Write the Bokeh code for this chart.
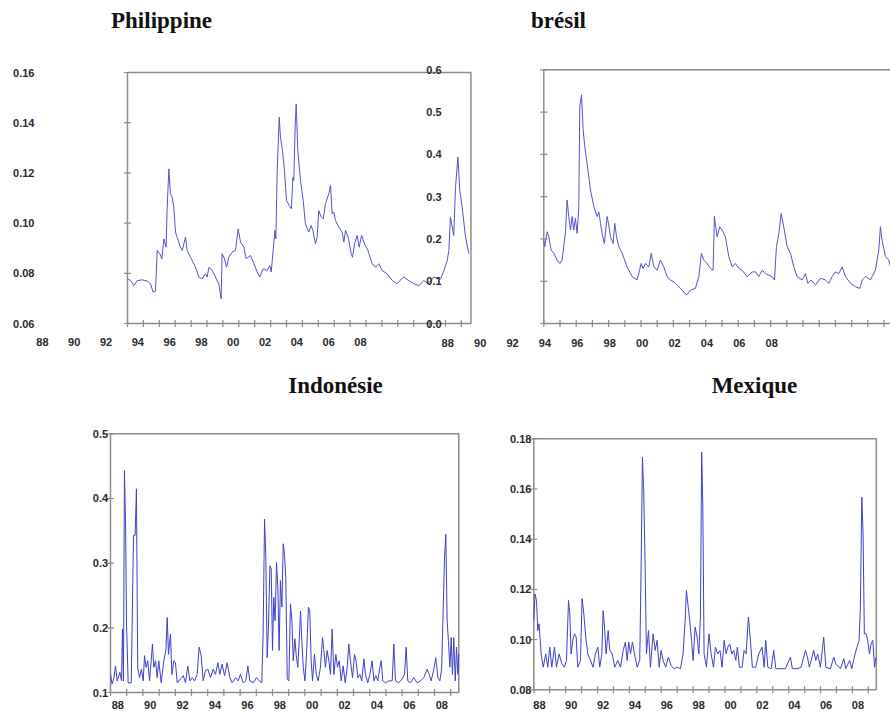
from bokeh.plotting import figure
from bokeh.models import Range1d
from bokeh.core.properties import value
from bokeh.embed import file_html
from bokeh.resources import INLINE

# ---------------- data ----------------
phil_years = [1988.00, 1988.19, 1988.40, 1988.61, 1988.92, 1989.24, 1989.45, 1989.61, 1989.76, 1989.87,
              1990.03, 1990.16, 1990.29, 1990.43, 1990.49, 1990.60, 1990.70, 1990.81, 1990.91, 1991.02,
              1991.12, 1991.33, 1991.44, 1991.65, 1991.75, 1991.96, 1992.28, 1992.49, 1992.70, 1992.91,
              1993.01, 1993.12, 1993.33, 1993.53, 1993.74, 1993.89, 1993.95, 1994.10, 1994.23, 1994.37,
              1994.58, 1994.79, 1994.96, 1995.11, 1995.32, 1995.46, 1995.74, 1995.95, 1996.16, 1996.32,
              1996.53, 1996.78, 1996.95, 1997.04, 1997.16, 1997.27, 1997.33, 1997.41, 1997.54, 1997.62,
              1997.75, 1997.87, 1998.00, 1998.17, 1998.31, 1998.40, 1998.46, 1998.55, 1998.61, 1998.71,
              1998.88, 1999.05, 1999.19, 1999.40, 1999.55, 1999.66, 1999.82, 1999.93, 2000.03, 2000.18,
              2000.31, 2000.45, 2000.66, 2000.77, 2000.87, 2000.98, 2001.08, 2001.29, 2001.50, 2001.61,
              2001.71, 2001.88, 2002.07, 2002.15, 2002.28, 2002.44, 2002.57, 2002.72, 2002.91, 2003.12,
              2003.39, 2003.60, 2003.81, 2004.02, 2004.33, 2004.65, 2004.96, 2005.13, 2005.38, 2005.69,
              2006.01, 2006.32, 2006.64, 2006.91, 2007.27, 2007.69, 2007.90, 2008.11, 2008.21, 2008.31,
              2008.52, 2008.63, 2008.78, 2008.90, 2009.05, 2009.26, 2009.47]
phil_vals = [0.0778, 0.0771, 0.0751, 0.0771, 0.0774, 0.0769, 0.0758, 0.0725, 0.0729, 0.0891,
             0.0878, 0.0858, 0.0937, 0.0904, 0.1050, 0.1216, 0.1117, 0.1103, 0.1063, 0.0964,
             0.0944, 0.0904, 0.0891, 0.0944, 0.0891, 0.0864, 0.0824, 0.0785, 0.0778, 0.0798,
             0.0785, 0.0824, 0.0811, 0.0785, 0.0758, 0.0698, 0.0878, 0.0858, 0.0824, 0.0864,
             0.0884, 0.0891, 0.0977, 0.0924, 0.0904, 0.0858, 0.0871, 0.0838, 0.0805, 0.0785,
             0.0818, 0.0811, 0.0831, 0.0805, 0.0891, 0.0971, 0.0937, 0.1196, 0.1422, 0.1342,
             0.1289, 0.1210, 0.1090, 0.1070, 0.1057, 0.1183, 0.1170, 0.1395, 0.1475, 0.1289,
             0.1170, 0.1090, 0.0997, 0.0964, 0.0990, 0.0971, 0.0917, 0.0944, 0.1050, 0.1024,
             0.1017, 0.1077, 0.1117, 0.1150, 0.1037, 0.1044, 0.1010, 0.0984, 0.0964, 0.0924,
             0.0971, 0.0944, 0.0878, 0.0864, 0.0917, 0.0951, 0.0904, 0.0951, 0.0917, 0.0891,
             0.0838, 0.0824, 0.0838, 0.0811, 0.0798, 0.0771, 0.0758, 0.0771, 0.0785, 0.0771,
             0.0758, 0.0751, 0.0771, 0.0758, 0.0785, 0.0778, 0.0811, 0.0851, 0.0891, 0.1024,
             0.0951, 0.1143, 0.1263, 0.1130, 0.1063, 0.0944, 0.0878]

bra_years = [1988.00, 1988.06, 1988.21, 1988.31, 1988.45, 1988.62, 1988.82, 1988.99, 1989.13, 1989.23,
             1989.34, 1989.44, 1989.54, 1989.65, 1989.75, 1989.85, 1989.95, 1990.06, 1990.16, 1990.22,
             1990.33, 1990.43, 1990.53, 1990.67, 1990.88, 1991.09, 1991.29, 1991.40, 1991.50, 1991.60,
             1991.74, 1991.91, 1992.01, 1992.12, 1992.28, 1992.38, 1992.49, 1992.63, 1992.84, 1993.14,
             1993.45, 1993.76, 1993.91, 1994.01, 1994.13, 1994.28, 1994.48, 1994.63, 1994.79, 1995.00,
             1995.20, 1995.41, 1995.61, 1995.82, 1996.13, 1996.44, 1996.81, 1997.05, 1997.36, 1997.57,
             1997.73, 1997.88, 1998.08, 1998.29, 1998.45, 1998.53, 1998.70, 1998.86, 1999.01, 1999.21,
             1999.42, 1999.63, 1999.83, 2000.04, 2000.24, 2000.55, 2000.86, 2001.07, 2001.27, 2001.48,
             2001.68, 2001.89, 2002.09, 2002.24, 2002.36, 2002.51, 2002.65, 2002.81, 2003.02, 2003.23,
             2003.43, 2003.64, 2003.95, 2004.15, 2004.30, 2004.50, 2004.77, 2005.08, 2005.39, 2005.59,
             2005.80, 2006.00, 2006.21, 2006.42, 2006.62, 2006.93, 2007.24, 2007.51, 2007.65, 2007.86,
             2008.16, 2008.47, 2008.68, 2008.78, 2008.88, 2009.09, 2009.30, 2009.40]
bra_vals = [0.197, 0.182, 0.217, 0.205, 0.174, 0.166, 0.150, 0.142, 0.150, 0.182,
            0.217, 0.292, 0.253, 0.221, 0.253, 0.221, 0.249, 0.213, 0.276, 0.513,
            0.541, 0.458, 0.418, 0.379, 0.316, 0.276, 0.253, 0.264, 0.237, 0.213,
            0.189, 0.253, 0.233, 0.205, 0.189, 0.237, 0.205, 0.182, 0.166, 0.134,
            0.111, 0.103, 0.126, 0.142, 0.130, 0.142, 0.134, 0.166, 0.134, 0.126,
            0.150, 0.134, 0.111, 0.103, 0.095, 0.083, 0.067, 0.079, 0.083, 0.111,
            0.166, 0.150, 0.142, 0.130, 0.126, 0.253, 0.205, 0.229, 0.221, 0.205,
            0.158, 0.134, 0.142, 0.130, 0.126, 0.111, 0.122, 0.122, 0.111, 0.126,
            0.118, 0.114, 0.111, 0.103, 0.182, 0.213, 0.260, 0.229, 0.182, 0.166,
            0.134, 0.111, 0.103, 0.118, 0.095, 0.103, 0.091, 0.107, 0.103, 0.095,
            0.111, 0.122, 0.118, 0.134, 0.111, 0.095, 0.087, 0.083, 0.103, 0.111,
            0.103, 0.126, 0.174, 0.229, 0.197, 0.158, 0.150, 0.134]

ind_years = [1988.00, 1988.10, 1988.21, 1988.31, 1988.41, 1988.58, 1988.68, 1988.74, 1988.80, 1988.86,
             1988.93, 1988.99, 1989.09, 1989.28, 1989.42, 1989.52, 1989.60, 1989.68, 1989.79, 1989.91,
             1990.02, 1990.10, 1990.20, 1990.30, 1990.41, 1990.51, 1990.59, 1990.67, 1990.78, 1990.88,
             1990.98, 1991.13, 1991.29, 1991.42, 1991.50, 1991.58, 1991.70, 1991.79, 1991.91, 1992.01,
             1992.12, 1992.32, 1992.49, 1992.63, 1992.77, 1992.90, 1993.04, 1993.19, 1993.35, 1993.47,
             1993.60, 1993.72, 1993.86, 1994.01, 1994.17, 1994.34, 1994.48, 1994.63, 1994.75, 1994.89,
             1995.04, 1995.20, 1995.37, 1995.51, 1995.72, 1995.88, 1996.02, 1996.19, 1996.35, 1996.48,
             1996.60, 1996.81, 1997.01, 1997.18, 1997.34, 1997.42, 1997.51, 1997.59, 1997.67, 1997.75,
             1997.84, 1997.92, 1998.00, 1998.08, 1998.16, 1998.25, 1998.33, 1998.41, 1998.49, 1998.58,
             1998.66, 1998.74, 1998.82, 1998.91, 1999.01, 1999.11, 1999.20, 1999.28, 1999.38, 1999.46,
             1999.56, 1999.65, 1999.73, 1999.81, 1999.90, 2000.00, 2000.10, 2000.22, 2000.30, 2000.39,
             2000.47, 2000.59, 2000.70, 2000.82, 2000.96, 2001.09, 2001.17, 2001.27, 2001.37, 2001.48,
             2001.58, 2001.68, 2001.79, 2001.91, 2002.01, 2002.12, 2002.24, 2002.36, 2002.49, 2002.61,
             2002.71, 2002.81, 2002.94, 2003.06, 2003.16, 2003.27, 2003.39, 2003.51, 2003.64, 2003.74,
             2003.88, 2004.01, 2004.15, 2004.26, 2004.38, 2004.50, 2004.63, 2004.71, 2004.81, 2004.98,
             2005.18, 2005.39, 2005.49, 2005.59, 2005.80, 2006.00, 2006.15, 2006.25, 2006.35, 2006.52,
             2006.72, 2006.93, 2007.14, 2007.34, 2007.55, 2007.67, 2007.79, 2007.96, 2008.08, 2008.21,
             2008.33, 2008.44, 2008.54, 2008.62, 2008.70, 2008.78, 2008.86, 2008.95, 2009.03, 2009.11,
             2009.19, 2009.28, 2009.36, 2009.44, 2009.50]
ind_vals = [0.128, 0.113, 0.123, 0.141, 0.118, 0.131, 0.118, 0.198, 0.118, 0.443,
            0.361, 0.206, 0.115, 0.115, 0.343, 0.343, 0.415, 0.139, 0.123, 0.136,
            0.118, 0.157, 0.139, 0.149, 0.118, 0.149, 0.175, 0.139, 0.149, 0.123,
            0.149, 0.115, 0.149, 0.165, 0.216, 0.159, 0.190, 0.128, 0.149, 0.146,
            0.115, 0.121, 0.126, 0.115, 0.141, 0.118, 0.123, 0.118, 0.128, 0.170,
            0.157, 0.118, 0.134, 0.136, 0.123, 0.136, 0.128, 0.146, 0.128, 0.144,
            0.126, 0.146, 0.123, 0.115, 0.123, 0.118, 0.128, 0.115, 0.118, 0.141,
            0.118, 0.115, 0.123, 0.118, 0.115, 0.190, 0.368, 0.309, 0.154, 0.201,
            0.296, 0.291, 0.165, 0.247, 0.211, 0.301, 0.263, 0.165, 0.273, 0.232,
            0.330, 0.314, 0.278, 0.121, 0.118, 0.237, 0.211, 0.149, 0.183, 0.159,
            0.139, 0.180, 0.226, 0.180, 0.139, 0.118, 0.159, 0.232, 0.226, 0.149,
            0.118, 0.159, 0.128, 0.118, 0.139, 0.185, 0.165, 0.139, 0.165, 0.149,
            0.128, 0.198, 0.128, 0.159, 0.139, 0.149, 0.118, 0.141, 0.115, 0.139,
            0.175, 0.149, 0.123, 0.159, 0.149, 0.123, 0.128, 0.118, 0.152, 0.128,
            0.115, 0.128, 0.149, 0.118, 0.126, 0.118, 0.139, 0.149, 0.118, 0.115,
            0.118, 0.118, 0.175, 0.118, 0.115, 0.121, 0.128, 0.170, 0.118, 0.115,
            0.123, 0.115, 0.118, 0.123, 0.136, 0.128, 0.118, 0.136, 0.154, 0.123,
            0.118, 0.136, 0.232, 0.309, 0.345, 0.211, 0.180, 0.139, 0.185, 0.128,
            0.185, 0.118, 0.170, 0.128, 0.159]

mex_years = [1988.00, 1988.08, 1988.17, 1988.25, 1988.33, 1988.46, 1988.59, 1988.75, 1988.88, 1989.00,
             1989.13, 1989.30, 1989.42, 1989.59, 1989.76, 1989.92, 1990.05, 1990.18, 1990.26, 1990.34,
             1990.45, 1990.55, 1990.66, 1990.76, 1990.93, 1991.03, 1991.14, 1991.26, 1991.39, 1991.56,
             1991.72, 1991.87, 1992.02, 1992.14, 1992.27, 1992.35, 1992.44, 1992.54, 1992.67, 1992.77,
             1992.92, 1993.08, 1993.27, 1993.44, 1993.61, 1993.75, 1993.86, 1993.96, 1994.07, 1994.19,
             1994.32, 1994.49, 1994.65, 1994.74, 1994.82, 1994.90, 1994.99, 1995.07, 1995.20, 1995.32,
             1995.49, 1995.62, 1995.74, 1995.87, 1995.99, 1996.12, 1996.28, 1996.45, 1996.62, 1996.79,
             1997.00, 1997.21, 1997.37, 1997.50, 1997.58, 1997.67, 1997.79, 1997.90, 1998.00, 1998.13,
             1998.25, 1998.36, 1998.46, 1998.54, 1998.61, 1998.69, 1998.84, 1999.00, 1999.13, 1999.28,
             1999.40, 1999.55, 1999.69, 1999.82, 1999.95, 2000.07, 2000.18, 2000.30, 2000.43, 2000.55,
             2000.68, 2000.78, 2000.91, 2001.08, 2001.20, 2001.33, 2001.47, 2001.60, 2001.72, 2001.93,
             2002.12, 2002.33, 2002.46, 2002.56, 2002.69, 2002.90, 2003.06, 2003.19, 2003.38, 2003.59,
             2003.79, 2004.11, 2004.23, 2004.53, 2004.78, 2005.05, 2005.18, 2005.30, 2005.57, 2005.70,
             2005.82, 2005.99, 2006.20, 2006.33, 2006.62, 2006.83, 2006.95, 2007.25, 2007.46, 2007.58,
             2007.83, 2007.96, 2008.17, 2008.29, 2008.42, 2008.50, 2008.59, 2008.67, 2008.75, 2008.86,
             2008.96, 2009.07, 2009.17, 2009.28, 2009.39, 2009.48]
mex_vals = [0.1076, 0.1182, 0.1156, 0.1036, 0.1063, 0.0943, 0.0890, 0.0943, 0.0890, 0.0970,
            0.0890, 0.0970, 0.0890, 0.0943, 0.0904, 0.0890, 0.0917, 0.1156, 0.1103, 0.0943,
            0.0997, 0.1023, 0.1010, 0.0890, 0.0917, 0.1163, 0.1103, 0.1010, 0.0943, 0.0917,
            0.0890, 0.0943, 0.0970, 0.0890, 0.0943, 0.1116, 0.1050, 0.0943, 0.1036, 0.0957,
            0.0943, 0.0890, 0.0917, 0.0890, 0.0957, 0.0990, 0.0917, 0.0990, 0.0943, 0.0990,
            0.0943, 0.0890, 0.0917, 0.1302, 0.1727, 0.1594, 0.1289, 0.0943, 0.1036, 0.0890,
            0.1023, 0.0957, 0.0997, 0.0890, 0.0957, 0.0917, 0.0890, 0.0930, 0.0897, 0.0884,
            0.0890, 0.0884, 0.0943, 0.1076, 0.1196, 0.1143, 0.1076, 0.0997, 0.0917, 0.1050,
            0.1010, 0.0943, 0.1090, 0.1747, 0.1528, 0.0943, 0.0890, 0.1023, 0.0943, 0.0890,
            0.0970, 0.0943, 0.0957, 0.0890, 0.0997, 0.0943, 0.0970, 0.0983, 0.0943, 0.0957,
            0.0917, 0.0970, 0.0890, 0.0890, 0.0957, 0.0943, 0.1090, 0.0997, 0.0890, 0.0890,
            0.0943, 0.0970, 0.0890, 0.0997, 0.0890, 0.0884, 0.0957, 0.0884, 0.0884, 0.0884,
            0.0884, 0.0930, 0.0884, 0.0884, 0.0890, 0.0957, 0.0930, 0.0890, 0.0957, 0.0917,
            0.0943, 0.0890, 0.1010, 0.0890, 0.0884, 0.0930, 0.0904, 0.0884, 0.0924, 0.0884,
            0.0917, 0.0884, 0.0943, 0.0970, 0.0997, 0.1129, 0.1568, 0.1422, 0.1023, 0.1023,
            0.0997, 0.0943, 0.0983, 0.0997, 0.0890, 0.0930]

# tick values / labels
phil_yticks = [0.06, 0.08, 0.10, 0.12, 0.14, 0.16]
phil_ylabels = ["0.06", "0.08", "0.10", "0.12", "0.14", "0.16"]
bra_yticks = [0.0, 0.1, 0.2, 0.3, 0.4, 0.5, 0.6]
bra_ylabels = ["0.0", "0.1", "0.2", "0.3", "0.4", "0.5", "0.6"]
ind_yticks = [0.1, 0.2, 0.3, 0.4, 0.5]
ind_ylabels = ["0.1", "0.2", "0.3", "0.4", "0.5"]
mex_yticks = [0.08, 0.10, 0.12, 0.14, 0.16, 0.18]
mex_ylabels = ["0.08", "0.10", "0.12", "0.14", "0.16", "0.18"]
label_years = [1988, 1990, 1992, 1994, 1996, 1998, 2000, 2002, 2004, 2006, 2008]
year_labels = ["88", "90", "92", "94", "96", "98", "00", "02", "04", "06", "08"]
tick_years = list(range(1988, 2010))
titles = ["Philippine", "brésil", "Indonésie", "Mexique"]

# ---------------- layout ----------------
W, H = 890, 711
LINE_TOP = "#5353cf"
LINE_BOT = "#4141c8"
FRAME = "#8c8c8c"
TICKFONT = value("Liberation Sans")
TITLEFONT = value("Liberation Serif")


def xr(v0, p0, ppu):
    s = v0 - p0 / ppu
    return Range1d(s, s + W / ppu)


def yr(v0, p0, ppu):
    s = v0 - (H - p0) / ppu
    return Range1d(s, s + H / ppu)


p = figure(width=W, height=H, output_backend="svg", toolbar_location=None,
           x_range=Range1d(0, W), y_range=Range1d(0, H),
           x_axis_location=None, y_axis_location=None, min_border=0)
p.grid.visible = False
p.outline_line_color = None
p.background_fill_color = "white"

p.extra_x_ranges = {"phil": xr(1988, 127, 15.9), "bra": xr(1988, 543.3, 16.2),
                    "ind": xr(1988, 110, 16.2), "mex": xr(1988, 533.3, 15.93)}
p.extra_y_ranges = {"phil": yr(0.06, 323, 2510), "bra": yr(0.0, 323, 422.8),
                    "ind": yr(0.1, 692, 646.7), "mex": yr(0.08, 689.3, 2510)}

panels = [
    # name, years, vals, xlim, ylim, yticks, ylabels, ylabel_x, xlabel_shift, xlabel_y, title, title_xy, color
    ("phil", phil_years, phil_vals, (1988, 2009.6), (0.06, 0.16), phil_yticks, phil_ylabels,
     1982.15, -5.35, 0.0528, titles[0], (1990.14, 0.1807), LINE_TOP),
    ("bra", bra_years, bra_vals, (1988, 2009.9), (0.0, 0.6), bra_yticks, bra_ylabels,
     1981.69, -5.93, -0.045, titles[1], (1988.91, 0.7167), LINE_TOP),
    ("ind", ind_years, ind_vals, (1988, 2009.5), (0.1, 0.5), ind_yticks, ind_ylabels,
     1987.85, 0.45, 0.0799, titles[2], (2001.89, 0.5747), LINE_BOT),
    ("mex", mex_years, mex_vals, (1988, 2009.5), (0.08, 0.18), mex_yticks, mex_ylabels,
     1987.85, 0.35, 0.0738, titles[3], (2001.85, 0.2012), LINE_BOT),
]

for (nm, yrs, vals, xlim, ylim, yt, yl, ylx, xsh, xly, ttl, txy, col) in panels:
    kw = dict(x_range_name=nm, y_range_name=nm)
    # frame
    p.quad(left=[xlim[0]], right=[xlim[1]], bottom=[ylim[0]], top=[ylim[1]],
           fill_color=None, line_color=FRAME, line_width=1.5, **kw)
    # frame ticks (small marks along bottom and left edges)
    p.rect(x=tick_years, y=[ylim[0]] * len(tick_years), width=1.2, height=7,
           width_units="screen", height_units="screen",
           fill_color=FRAME, line_color=None, **kw)
    p.rect(x=[xlim[0]] * len(yt), y=yt, width=7, height=1.2,
           width_units="screen", height_units="screen",
           fill_color=FRAME, line_color=None, **kw)
    # series
    p.line(x=yrs, y=vals, line_color=col, line_width=1.0, **kw)
    # y tick labels
    p.text(x=[ylx] * len(yt), y=yt, text=yl, text_align="right", text_baseline="middle",
           text_font=TICKFONT, text_font_size="11px", text_font_style="bold",
           text_color="#2a2a2a", **kw)
    # x tick labels
    p.text(x=[yv + xsh for yv in label_years], y=[xly] * len(label_years), text=year_labels,
           text_align="center", text_baseline="middle", text_font_style="bold",
           text_font=TICKFONT, text_font_size="11px", text_color="#2a2a2a", **kw)
    # title
    p.text(x=[txy[0]], y=[txy[1]], text=[ttl], text_align="center", text_baseline="middle",
           text_font=TITLEFONT, text_font_style="bold", text_font_size="23px",
           text_color="#111111", **kw)

open("out.html", "w").write(file_html(p, INLINE))
